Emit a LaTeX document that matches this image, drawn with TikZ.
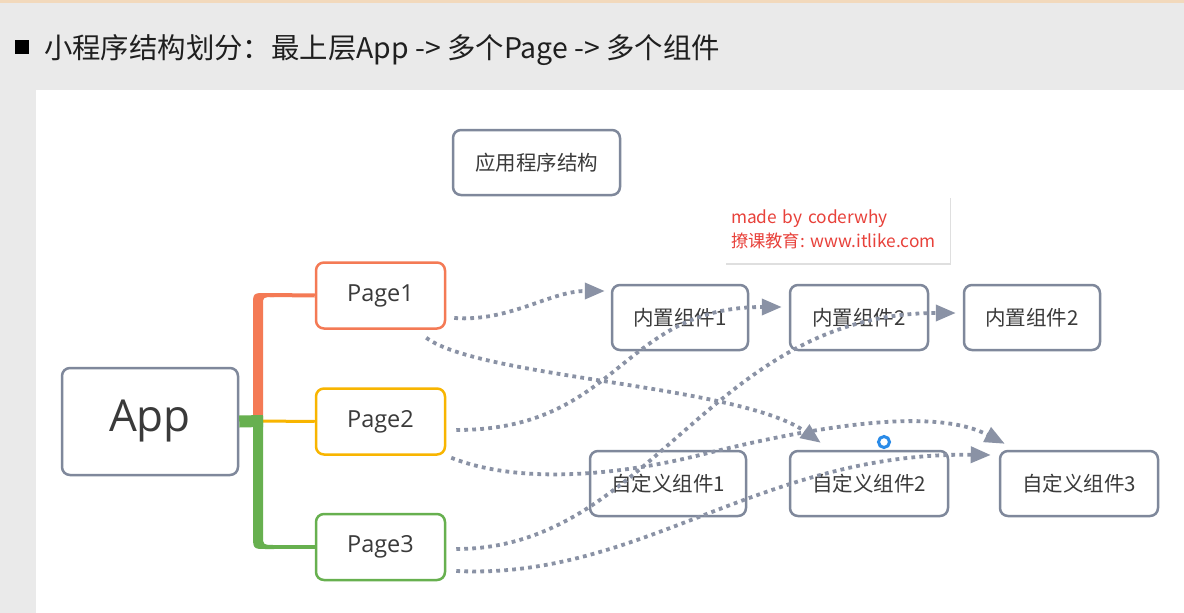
\documentclass[tikz,border=0pt]{standalone}
\usepackage{fontspec}
\setmainfont{Noto Sans CJK SC}
\newfontfamily\osans{Open Sans}
\usetikzlibrary{arrows.meta,calc,shadows}
\definecolor{bgc}{HTML}{EAEAEA}
\definecolor{strip}{HTML}{F2D9BC}
\definecolor{boxc}{HTML}{7F889B}
\definecolor{txt}{HTML}{3A3A3A}
\definecolor{c1}{HTML}{F47A55}
\definecolor{c2}{HTML}{F8B500}
\definecolor{c3}{HTML}{67B04F}
\definecolor{conc}{HTML}{8A92A5}
\definecolor{wmred}{HTML}{E8413A}
\definecolor{cursor}{HTML}{2A8BE8}
\tikzset{
  box/.style={draw=boxc, line width=2.5pt, rounded corners=8pt, fill=white, inner sep=0pt, text=txt, font=\fontsize{20.5}{24}\selectfont},
  pagebox/.style={box, minimum width=129pt, minimum height=66pt, font=\osans\fontsize{23.5}{27}\selectfont},
  kbox/.style={box, minimum height=65pt},
  conn/.style={draw=conc, line width=3.8pt, dash pattern=on 3.8pt off 4.2pt, -{Triangle[length=20pt,width=16pt]}},
}
\begin{document}
\begin{tikzpicture}[x=1pt,y=-1pt]
\useasboundingbox (0,0) rectangle (1184,613);
\fill[bgc] (0,0) rectangle (1184,613);
\fill[strip] (0,0) rectangle (1184,3);
\fill[white] (36,90) rectangle (1184,613);

% title
\node[fill=black, minimum size=14pt, inner sep=0pt] (bullet) at (22,47) {};
\node[anchor=base west, inner sep=0pt, font=\fontsize{28.4}{32}\selectfont, text=black!88] (title) at (44,58) {小程序结构划分：最上层App -> 多个Page -> 多个组件};

% nodes
\node[box, minimum width=167pt, minimum height=65pt] (struct) at (536.5,162.5) {应用程序结构};
\node[fill=white, drop shadow={shadow xshift=1pt, shadow yshift=-2pt, opacity=0.25}, minimum width=225pt, minimum height=67pt, inner xsep=6pt, inner ysep=0pt, text width=213pt, align=left, text=wmred, font=\fontsize{17.3}{24}\selectfont] (wm) at (837.5,229) {made by coderwhy\\撩课教育:~www.itlike.com};

\node[box, minimum width=176pt, minimum height=107pt, font=\osans\fontsize{44}{50}\selectfont] (app) at (150,421.5) {App};
\node[pagebox, draw=c1] (p1) at (380.5,295.5) {Page1};
\node[pagebox, draw=c2] (p2) at (380.5,421.5) {Page2};
\node[pagebox, draw=c3] (p3) at (380.5,547) {Page3};

\node[kbox, minimum width=136pt] (k1) at (680,317.5) {内置组件1};
\node[kbox, minimum width=138pt] (k2) at (859,317.5) {内置组件2};
\node[kbox, minimum width=136pt] (k3) at (1032,317.5) {内置组件2};
\node[kbox, minimum width=156pt] (u1) at (668,483.5) {自定义组件1};
\node[kbox, minimum width=158pt] (u2) at (869,483.5) {自定义组件2};
\node[kbox, minimum width=158pt] (u3) at (1079,483.5) {自定义组件3};

% tree connectors
\coordinate (j) at (258,421);
\fill[c1] (253,421) -- (253,306) .. controls (253,293) .. (266,293) -- (274,293) -- (274,297)
   .. controls (263,297) .. (263,305) -- (263,421) -- cycle;
\draw[c1, line width=4pt] (270,295) -- (p1.west);
\draw[c2, line width=3pt] (j) -- (p2.west);
\fill[c3] (253,416) -- (253,534) .. controls (253,549) .. (266,549) -- (274,549) -- (274,545)
   .. controls (263,545) .. (263,536) -- (263,416) -- cycle;
\draw[c3, line width=4pt] (270,547) -- (p3.west);
\draw[c3, line width=12pt] (app.east) -- ($(j)+(5,0)$);

% dotted connectors
\draw[conn] ($(p1.east)+(8,22.5)$) .. controls (510,322) and (550,291) .. ($(k1.west)+(-6,-26.5)$);
\draw[conn] ($(p1.south east)+(-20,8)$) .. controls (480,378) and (740,385) .. ($(u2.north west)+(32,-7)$);
\draw[conn] ($(p2.east)+(10,8.5)$) .. controls (620,430) and (620,307) .. ($(k2.west)+(-7,-10.5)$);
\draw[conn] ($(p2.south east)+(5,2)$) .. controls (520,485) and (620,475) .. (700,455)
   .. controls (840,420) and (940,410) .. ($(u3.north west)+(6,-6)$);
\draw[conn] ($(p3.east)+(10,2)$) .. controls (650,549) and (710,313) .. ($(k3.west)+(-7,-4.5)$);
\draw[conn] ($(p3.east)+(10,24)$) .. controls (640,580) and (760,452) .. ($(u3.west)+(-8,-28.5)$);

% cursor mark
\draw[cursor, line width=3pt, fill=white] (884,442) circle[radius=5.5pt];
\end{tikzpicture}
\end{document}
